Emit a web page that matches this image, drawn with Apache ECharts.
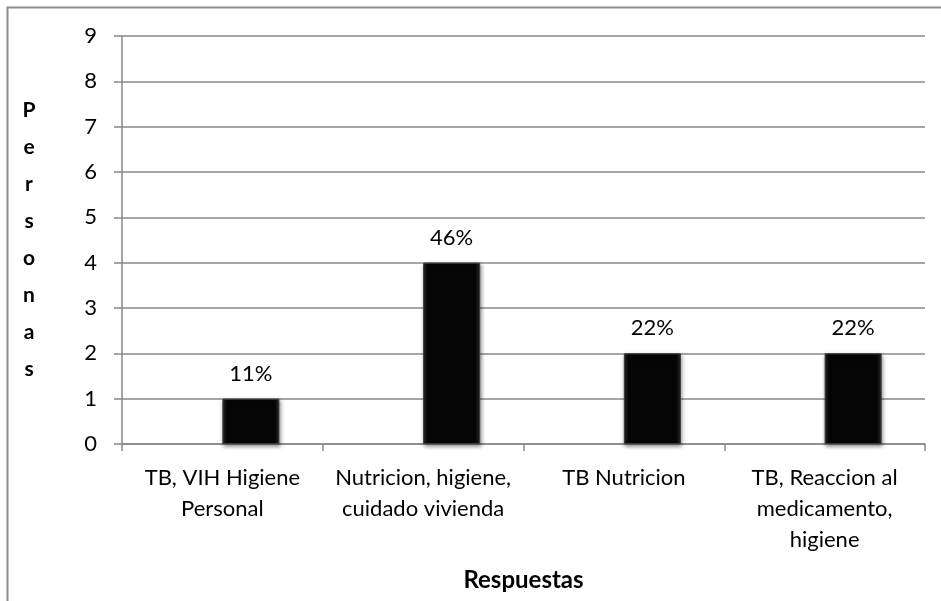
<!DOCTYPE html>
<html>
<head>
<meta charset="utf-8">
<script src="https://cdn.jsdelivr.net/npm/echarts@6/dist/echarts.min.js"></script>
<style>
  html, body { margin: 0; padding: 0; background: #fff; }
  #main { width: 941px; height: 601px; }
</style>
</head>
<body>
<div id="main"></div>
<script>
// ---------- data ----------
var categories = [
  "TB, VIH Higiene\nPersonal",
  "Nutricion, higiene,\ncuidado vivienda",
  "TB Nutricion",
  "TB, Reaccion al\nmedicamento,\nhigiene"
];
var personas = [1, 4, 2, 2];
var porcentajes = ["11%", "46%", "22%", "22%"];
var emptySeries = [0, 0, 0, 0];
var yTitle = "Personas";
var xTitle = "Respuestas";

var FONT = "Lato";
var FS = 22;

var myChart = echarts.init(document.getElementById("main"), null, { renderer: "canvas" });

var option = {
  animation: false,
  backgroundColor: "#fff",
  graphic: [
    {
      // outer chart frame (cut off at right / bottom like the reference)
      type: "rect",
      shape: { x: 7.5, y: 7.5, width: 1000, height: 1000 },
      style: { fill: "none", stroke: "#8c8c8c", lineWidth: 2 },
      silent: true
    }
  ],
  grid: { left: 122, right: 16, top: 36, bottom: 157, outerBoundsMode: "none", containLabel: false },
  xAxis: {
    type: "category",
    data: categories,
    name: xTitle,
    nameLocation: "middle",
    nameGap: 136,
    nameTextStyle: {
      fontFamily: FONT,
      fontSize: 24,
      fontWeight: "bold",
      color: "#000",
      verticalAlign: "middle"
    },
    axisLine: { lineStyle: { color: "#888", width: 1.5 } },
    axisTick: { show: true, length: 7, lineStyle: { color: "#888", width: 1.5 } },
    axisLabel: {
      fontFamily: FONT,
      fontSize: FS,
      color: "#000",
      lineHeight: 31,
      margin: 18,
      interval: 0,
      align: "center"
    }
  },
  yAxis: {
    type: "value",
    min: 0,
    max: 9,
    interval: 1,
    name: yTitle.split("").join("\n"),
    nameLocation: "middle",
    nameRotate: 0,
    nameGap: 93,
    nameTextStyle: {
      fontFamily: FONT,
      fontSize: FS - 1,
      fontWeight: "bold",
      color: "#000",
      lineHeight: 37,
      align: "center",
      verticalAlign: "middle",
      padding: [0, 0, 26, 0]
    },
    axisLine: { show: true, lineStyle: { color: "#888", width: 1.5 } },
    axisTick: { show: true, length: 8, lineStyle: { color: "#888", width: 1.5 } },
    axisLabel: { fontFamily: FONT, fontSize: FS, color: "#000", margin: 25 },
    splitLine: { lineStyle: { color: "#888", width: 1.5 } }
  },
  series: [
    {
      // empty first series: keeps the visible bars right of category centre
      type: "bar",
      data: emptySeries,
      barWidth: 57,
      barGap: "0%",
      itemStyle: { color: "rgba(0,0,0,0)" },
      silent: true
    },
    {
      type: "bar",
      data: personas,
      barWidth: 57,
      barGap: "0%",
      itemStyle: {
        color: {
          type: "linear", x: 0, y: 0, x2: 1, y2: 0,
          colorStops: [
            { offset: 0, color: "#2a2a2a" },
            { offset: 0.08, color: "#050505" },
            { offset: 0.92, color: "#050505" },
            { offset: 1, color: "#2a2a2a" }
          ]
        },
        borderColor: "#3a3a3a",
        borderWidth: 1,
        shadowColor: "rgba(0,0,0,0.45)",
        shadowBlur: 4,
        shadowOffsetX: 1,
        shadowOffsetY: 2
      },
      label: {
        show: true,
        position: "top",
        distance: 14,
        fontFamily: FONT,
        fontSize: FS,
        color: "#000",
        formatter: function (p) {
          return porcentajes[p.dataIndex];
        }
      }
    }
  ]
};

myChart.setOption(option);
window.addEventListener("resize", myChart.resize);
</script>
</body>
</html>
